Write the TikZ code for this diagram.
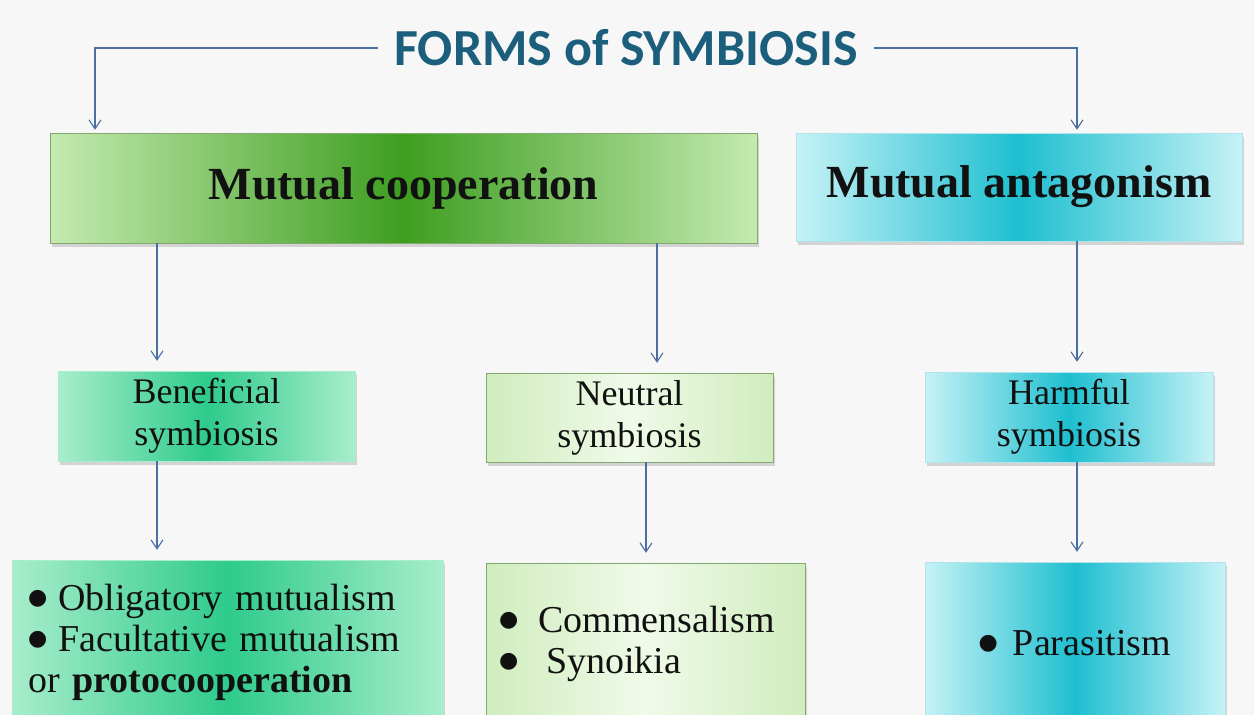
\documentclass[tikz,border=0pt]{standalone}
\usepackage{fontspec}
\setmainfont{Liberation Serif}
\newfontfamily\titlefont{Carlito}
\newfontfamily\dotfont{DejaVu Sans}
\usepackage{tikz}
\usetikzlibrary{arrows.meta,positioning,shadows}
\definecolor{ink}{HTML}{111111}
\definecolor{paper}{HTML}{F7F7F7}
\definecolor{headblue}{HTML}{1C5F7C}
\definecolor{linkblue}{HTML}{4A6FA0}
\definecolor{leafedge}{HTML}{C4EAB0}
\definecolor{leafmid}{HTML}{3E9E20}
\definecolor{leafline}{HTML}{82A870}
\definecolor{mintedge}{HTML}{A8EDCC}
\definecolor{mintmid}{HTML}{2ECB8C}
\definecolor{paleedge}{HTML}{D0EDBE}
\definecolor{palemid}{HTML}{F0FAE9}
\definecolor{aquaedge}{HTML}{C6F2F6}
\definecolor{aquamid}{HTML}{1EBFD0}
\definecolor{aqualine}{HTML}{B0E4EA}
\newcommand{\blob}{\raisebox{6pt}{\dotfont\fontsize{22}{22}\selectfont ●}}

\tikzset{
  formbox/.style={rectangle,inner sep=0pt,align=center,text=ink,
                  drop shadow={shadow xshift=2pt,shadow yshift=-4pt,opacity=0.3}},
  coopfill/.style={left color=leafedge,right color=leafedge,middle color=leafmid,draw=leafline},
  mintfill/.style={left color=mintedge,right color=mintedge,middle color=mintmid,draw=mintedge},
  palefill/.style={left color=paleedge,right color=paleedge,middle color=palemid,draw=leafline},
  aquafill/.style={left color=aquaedge,right color=aquaedge,middle color=aquamid,draw=aqualine},
  link/.style={draw=linkblue,line width=1.1pt,-{Straight Barb[length=9pt,width=12pt]}},
  headfont/.style={font=\fontsize{46}{50}\selectfont\bfseries},
  midfont/.style={font=\fontsize{36}{42}\selectfont},
  lowfont/.style={font=\fontsize{38}{41}\selectfont}
}

\begin{document}
\begin{tikzpicture}[x=1pt,y=-1pt]
  \useasboundingbox (0,0) rectangle (1254,715);
  \fill[paper] (0,0) rectangle (1254,715);
  \clip (0,0) rectangle (1254,715);

  % title
  \node[inner sep=16pt,text=headblue,font=\titlefont\fontsize{52}{58}\selectfont\bfseries]
    (title) at (626,48) {FORMS of SYMBIOSIS};

  % first level
  \node[formbox,coopfill,headfont,minimum width=707pt,minimum height=110pt]
    (coop) at (403.5,188) {\raisebox{-4pt}{Mutual cooperation}};
  \node[formbox,aquafill,headfont,minimum width=446pt,minimum height=108pt]
    (antag) at (1019,187) {\raisebox{-3pt}{Mutual antagonism}};

  % second level
  \node[formbox,mintfill,midfont,minimum width=297pt,minimum height=90pt]
    (benef) at (206.5,416) {Beneficial\\symbiosis};
  \node[formbox,palefill,midfont,minimum width=287pt,minimum height=89pt]
    (neutral) at (629.5,417.5) {Neutral\\symbiosis};
  \node[formbox,aquafill,midfont,minimum width=288pt,minimum height=90pt]
    (harm) at (1069,417) {Harmful\\symbiosis};

  % third level (runs off the bottom edge)
  \node[formbox,mintfill,lowfont,minimum width=431pt,minimum height=165pt,
        text width=399pt,align=left]
    (mutualism) at (227.5,642.5)
    {\blob\hspace{11pt}Obligatory mutualism\\
     \blob\hspace{11pt}Facultative mutualism\\
     or \textbf{protocooperation}};
  \node[formbox,palefill,lowfont,minimum width=319pt,minimum height=162pt,
        text width=293pt,align=left]
    (commens) at (645.5,644)
    {\blob\hspace{20pt}Commensalism\\
     \blob\hspace{28pt}Synoikia};
  \node[formbox,aquafill,lowfont,minimum width=300pt,minimum height=163pt]
    (parasit) at (1075,643.5) {\blob\hspace{15pt}Parasitism};

  % connector columns
  \coordinate (c1) at (157,0);
  \coordinate (c2) at (657,0);
  \coordinate (c3) at (646,0);
  \coordinate (c4) at (1077,0);
  \coordinate (c0) at (95,0);

  \draw[link,shorten >=3pt] (title.west) -| (coop.north -| c0);
  \draw[link,shorten >=3pt] (title.east) -| (antag.north -| c4);
  \draw[link,shorten >=10pt] (coop.south -| c1) -- (benef.north -| c1);
  \draw[link,shorten >=10pt] (coop.south -| c2) -- (neutral.north -| c2);
  \draw[link,shorten >=10pt] (antag.south -| c4) -- (harm.north -| c4);
  \draw[link,shorten >=10pt] (benef.south -| c1) -- (mutualism.north -| c1);
  \draw[link,shorten >=10pt] (neutral.south -| c3) -- (commens.north -| c3);
  \draw[link,shorten >=10pt] (harm.south -| c4) -- (parasit.north -| c4);
\end{tikzpicture}
\end{document}
